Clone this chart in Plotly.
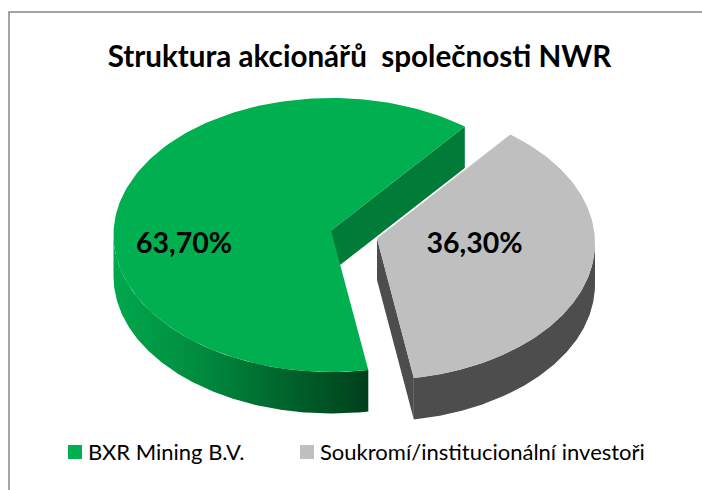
import numpy as np
import plotly.graph_objects as go

TITLE = "Struktura akcionářů  společnosti NWR"
CATEGORIES = ["BXR Mining B.V.", "Soukromí/institucionální investoři"]
SHARES = [63.7, 36.3]
LABELS = ["63,70%", "36,30%"]

TOP_COLORS = ["#00B050", "#BFBFBF"]
CUT_COLORS = ["#007C38", "#4D4D4D"]
GREEN_SIDE_SCALE = [[0, "#00A84C"], [0.35, "#008A3E"], [0.7, "#00612B"], [1, "#00401C"]]
FONT = "Lato, Carlito, Calibri, sans-serif"

# projected pie geometry, in page pixels
A, B, DEPTH = 218, 137, 41.5
CENTRES = [(331.5, 235), (377, 243)]
APEXES = [(331, 230.5), (377, 238.5)]
START = 37.7      # clockwise from north, where the grey slice begins
SWEEP_FIX = 1.0145  # perspective widens the front slice slightly


def arc(c, a0, a1, dy=0.0):
    t = np.radians(np.linspace(a0, a1, 160))
    return c[0] + A * np.sin(t), c[1] - B * np.cos(t) + dy


grey_sweep = SHARES[1] / sum(SHARES) * 360 * SWEEP_FIX
grey_a0, grey_a1 = START, START + grey_sweep
green_a0, green_a1 = grey_a1, START + 360

fig = go.Figure()


def poly(x, y, color=None, gradient=None):
    kw = dict(fillgradient=gradient) if gradient else dict(fillcolor=color)
    fig.add_trace(go.Scatter(x=list(x), y=list(y), mode="lines", fill="toself",
                             line=dict(width=0), hoverinfo="skip", showlegend=False, **kw))


# green: outer wall, cut wall, top
xa, ya = arc(CENTRES[0], green_a0, 270)
xb, yb = arc(CENTRES[0], 270, green_a0, DEPTH)
poly(np.r_[xa, xb], np.r_[ya, yb],
     gradient=dict(type="horizontal", colorscale=GREEN_SIDE_SCALE))
sx, sy = arc(CENTRES[0], START, START)
poly([APEXES[0][0], sx[0], sx[0], APEXES[0][0]],
     [APEXES[0][1], sy[0], sy[0] + DEPTH, APEXES[0][1] + DEPTH], CUT_COLORS[0])
xt, yt = arc(CENTRES[0], green_a0, green_a1)
poly(np.r_[APEXES[0][0], xt], np.r_[APEXES[0][1], yt], TOP_COLORS[0])

# grey: walls, top
xa, ya = arc(CENTRES[1], 90, grey_a1)
xb, yb = arc(CENTRES[1], grey_a1, 90, DEPTH)
poly(np.r_[xa, xb], np.r_[ya, yb], CUT_COLORS[1])
ex, ey = arc(CENTRES[1], grey_a1, grey_a1)
poly([APEXES[1][0], ex[0], ex[0], APEXES[1][0]],
     [APEXES[1][1], ey[0], ey[0] + DEPTH, APEXES[1][1] + DEPTH], CUT_COLORS[1])
xt, yt = arc(CENTRES[1], grey_a0, grey_a1)
poly(np.r_[APEXES[1][0], xt], np.r_[APEXES[1][1], yt], TOP_COLORS[1])

# value labels
fig.add_trace(go.Scatter(x=[184, 474.5], y=[246, 246], mode="text", text=LABELS,
                         textfont=dict(family=FONT, size=28.5, color="black", weight="bold"),
                         hoverinfo="skip", showlegend=False))

# legend row
fig.add_trace(go.Scatter(x=[75, 307], y=[452, 452], mode="markers",
                         marker=dict(symbol="square", size=14, color=TOP_COLORS, line=dict(width=0)),
                         hoverinfo="skip", showlegend=False))
fig.add_trace(go.Scatter(x=[88, 320], y=[454, 454], mode="text", text=CATEGORIES,
                         textposition="middle right",
                         textfont=dict(family=FONT, size=22, color="black"),
                         hoverinfo="skip", showlegend=False))

fig.update_layout(
    width=702, height=490, margin=dict(l=0, r=0, t=0, b=0),
    paper_bgcolor="white", plot_bgcolor="white", showlegend=False,
    title=dict(text=TITLE, x=359.5 / 702, xanchor="center", y=1 - 57 / 490, yanchor="middle",
               font=dict(family=FONT, size=29.6, color="black", weight="bold")),
    xaxis=dict(range=[0, 702], visible=False, fixedrange=True),
    yaxis=dict(range=[490, 0], visible=False, fixedrange=True),
    shapes=[dict(type="rect", xref="x", yref="y", x0=9, x1=720, y0=12, y1=520,
                 line=dict(color="#868686", width=1.5), layer="below")],
)
fig.write_html("out.html", config=dict(displayModeBar=False),
               post_script="document.body.style.margin='0';document.documentElement.style.overflow='hidden';")
